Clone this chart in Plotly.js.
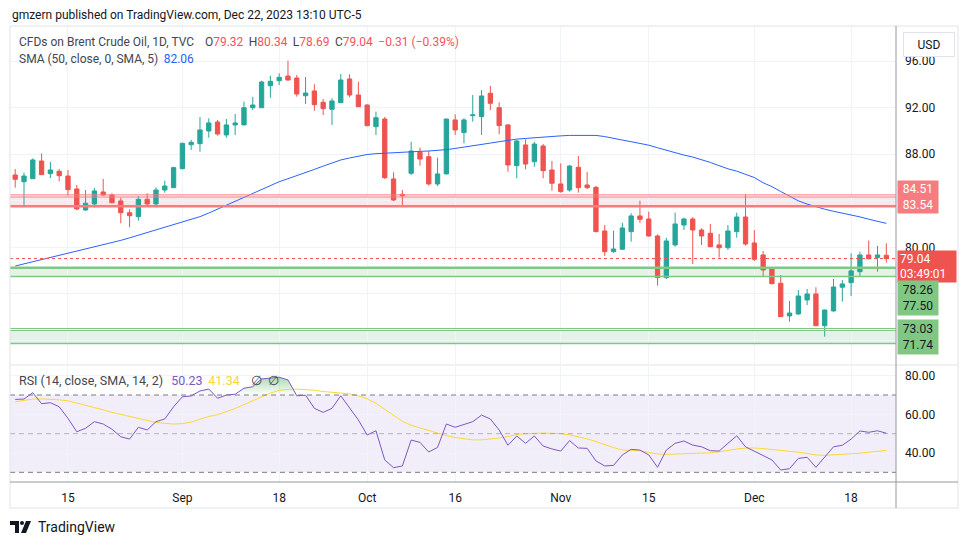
<!DOCTYPE html>
<html><head><meta charset="utf-8">
<script src="https://cdn.plot.ly/plotly-3.0.1.min.js"></script>
<style>html,body{margin:0;padding:0;background:#fff}#chart{width:970px;height:545px}</style>
</head><body><div id="chart"></div>
<script>
const dates = [
'2023-08-07','2023-08-08','2023-08-09','2023-08-10','2023-08-11',
'2023-08-14','2023-08-15','2023-08-16','2023-08-17','2023-08-18',
'2023-08-21','2023-08-22','2023-08-23','2023-08-24','2023-08-25',
'2023-08-28','2023-08-29','2023-08-30','2023-08-31','2023-09-01',
'2023-09-04','2023-09-05','2023-09-06','2023-09-07','2023-09-08',
'2023-09-11','2023-09-12','2023-09-13','2023-09-14','2023-09-15',
'2023-09-18','2023-09-19','2023-09-20','2023-09-21','2023-09-22',
'2023-09-25','2023-09-26','2023-09-27','2023-09-28','2023-09-29',
'2023-10-02','2023-10-03','2023-10-04','2023-10-05','2023-10-06',
'2023-10-09','2023-10-10','2023-10-11','2023-10-12','2023-10-13',
'2023-10-16','2023-10-17','2023-10-18','2023-10-19','2023-10-20',
'2023-10-23','2023-10-24','2023-10-25','2023-10-26','2023-10-27',
'2023-10-30','2023-10-31','2023-11-01','2023-11-02','2023-11-03',
'2023-11-06','2023-11-07','2023-11-08','2023-11-09','2023-11-10',
'2023-11-13','2023-11-14','2023-11-15','2023-11-16','2023-11-17',
'2023-11-20','2023-11-21','2023-11-22','2023-11-23','2023-11-24',
'2023-11-27','2023-11-28','2023-11-29','2023-11-30','2023-12-01',
'2023-12-04','2023-12-05','2023-12-06','2023-12-07','2023-12-08',
'2023-12-11','2023-12-12','2023-12-13','2023-12-14','2023-12-15',
'2023-12-18','2023-12-19','2023-12-20','2023-12-21','2023-12-22'];

const openP = [
86.22,85.64,85.90,87.42,86.33,86.54,86.13,85.02,83.21,83.73,
84.76,84.50,83.99,82.98,82.64,84.13,83.73,84.93,85.13,86.76,
88.82,88.91,90.00,90.77,89.66,90.52,90.52,92.00,92.00,93.89,
94.32,94.72,94.55,93.03,93.44,92.47,91.86,92.43,94.47,93.09,
92.23,90.37,91.03,85.88,84.56,86.37,88.17,87.79,85.45,86.31,
90.95,89.86,91.32,91.23,93.24,92.00,90.52,87.02,88.80,87.36,
88.71,86.65,85.45,84.93,86.88,85.36,85.16,81.41,79.63,79.84,
81.35,82.70,82.44,80.98,77.40,80.21,81.92,82.44,81.49,81.21,
80.21,79.97,81.35,82.61,80.38,79.35,78.14,76.92,74.11,74.28,
75.48,76.00,73.27,74.54,76.58,76.97,77.91,79.35,79.12,79.32];
const highP = [
86.73,86.42,87.65,88.08,87.34,86.73,86.65,85.36,84.93,85.10,
85.88,84.65,84.27,83.27,84.42,84.65,85.16,85.73,86.93,89.00,
89.23,91.20,91.09,90.95,91.03,91.46,92.52,92.92,94.32,94.75,
94.96,96.04,94.81,94.64,94.01,92.75,92.81,94.90,94.87,94.24,
92.30,91.66,91.20,86.45,84.93,89.08,88.57,88.28,87.71,91.05,
91.43,91.09,93.09,93.52,93.87,92.47,90.58,89.23,89.29,89.08,
88.88,87.42,87.22,87.08,87.85,86.48,85.27,81.92,81.43,82.12,
82.93,84.01,83.07,81.12,80.83,82.98,82.55,82.59,81.64,82.01,
81.15,81.92,82.98,84.56,81.49,79.69,78.26,77.63,75.40,76.34,
76.43,76.57,74.65,77.29,77.20,79.49,79.63,80.58,80.12,80.34];
const lowP = [
85.13,83.44,85.88,86.22,85.96,85.68,84.44,83.21,83.15,83.41,
84.42,83.79,82.07,81.73,82.29,83.64,83.44,84.70,85.10,86.70,
88.37,88.22,89.42,89.60,89.42,89.66,90.52,91.80,92.00,92.86,
93.95,94.32,92.95,92.32,91.74,91.37,90.52,92.43,92.90,92.05,
90.40,89.66,85.88,83.99,83.58,86.22,87.02,85.30,85.27,86.28,
89.66,88.94,90.80,89.66,91.80,89.72,86.50,85.94,86.71,86.93,
85.94,84.87,84.70,84.79,84.70,85.01,81.30,79.26,79.54,79.80,
80.49,82.12,80.92,76.71,77.29,80.06,81.49,78.57,80.21,80.02,
79.12,79.78,80.83,80.15,78.83,77.54,76.83,74.02,73.62,74.19,
75.05,73.24,72.33,74.48,75.34,75.82,77.48,78.98,77.91,78.69];
const closeP = [
85.85,86.13,87.51,86.25,86.65,86.16,84.96,83.30,83.79,84.85,
84.50,83.84,82.98,82.72,84.13,83.73,84.93,85.27,86.85,88.94,
89.03,90.09,90.69,89.74,90.52,90.69,92.00,92.23,94.21,94.27,
94.61,94.38,93.18,93.26,92.26,91.92,92.58,94.38,93.09,92.09,
90.46,91.14,85.99,84.07,84.44,88.28,87.59,85.45,86.31,91.03,
90.09,90.95,91.38,93.01,92.38,90.46,87.08,89.14,87.16,88.88,
86.59,85.51,84.79,86.99,85.13,85.13,81.35,79.63,79.86,81.67,
82.70,82.41,80.98,77.40,80.55,82.01,82.44,81.49,80.98,80.06,
79.97,81.41,82.61,80.29,78.98,78.06,76.88,74.05,74.36,75.82,
76.00,73.27,74.62,76.60,76.86,77.98,79.35,79.02,79.35,79.04];

const sma50 = [
78.40,78.58,78.77,78.95,79.14,79.33,79.51,79.70,79.88,80.05,
80.21,80.40,80.60,80.82,81.05,81.28,81.51,81.74,81.97,82.20,
82.42,82.64,82.95,83.28,83.61,83.94,84.27,84.60,84.95,85.30,
85.64,85.90,86.15,86.40,86.70,86.98,87.25,87.51,87.68,87.84,
87.98,88.05,88.10,88.15,88.19,88.22,88.25,88.28,88.33,88.40,
88.50,88.60,88.71,88.84,88.96,89.08,89.21,89.30,89.36,89.43,
89.48,89.53,89.58,89.62,89.64,89.66,89.62,89.52,89.35,89.22,
89.08,88.94,88.78,88.56,88.34,88.10,87.93,87.76,87.55,87.30,
87.02,86.75,86.55,86.30,86.00,85.55,85.22,84.80,84.38,84.00,
83.72,83.48,83.28,83.10,82.95,82.80,82.62,82.42,82.22,82.06];

const rsi = [
67.7,67.9,71.2,65.5,66.0,63.9,57.9,51.0,52.8,56.2,
55.0,52.3,48.4,47.2,53.3,51.9,56.2,57.6,63.9,69.1,
69.5,72.1,73.1,68.3,70.0,70.4,73.5,74.3,78.3,78.6,
79.2,77.8,69.6,69.9,63.1,61.0,63.1,69.6,63.1,57.1,
49.3,51.5,36.4,32.4,33.3,46.7,45.5,40.5,42.9,55.0,
53.3,54.8,56.2,59.6,57.6,51.9,44.0,48.8,45.0,48.8,
43.6,42.1,41.0,46.4,42.6,42.4,35.9,33.3,33.6,39.0,
41.9,41.5,39.0,32.6,41.5,45.0,46.2,44.1,43.2,41.2,
41.0,45.0,48.9,43.2,41.0,39.0,36.4,31.2,31.9,37.2,
37.8,32.6,37.8,43.2,44.0,47.2,51.4,50.7,51.5,50.23];

const rsiMa = [
66.5,67.3,67.9,68.0,67.9,67.5,67.0,65.9,64.6,63.5,
62.3,61.0,59.9,58.8,57.8,56.7,55.8,55.3,55.0,55.2,
56.0,57.5,58.9,59.8,61.2,63.0,65.0,67.0,69.2,71.0,
72.4,72.9,73.0,72.9,72.5,71.8,71.4,71.2,70.6,69.6,
68.0,65.7,62.5,59.5,56.4,54.3,52.9,51.4,50.2,49.0,
48.0,47.4,46.8,46.8,47.2,47.8,48.5,49.6,50.0,50.2,
50.3,50.2,50.0,49.4,48.5,47.3,45.9,44.3,42.8,41.6,
41.4,41.2,40.3,39.5,39.3,39.4,39.7,39.9,40.0,40.1,
40.6,41.5,42.1,42.5,42.6,42.3,41.9,41.4,40.9,40.4,
39.8,39.0,38.8,39.0,39.2,39.5,39.9,40.4,41.0,41.34];

const tickDates = ['2023-08-15','2023-09-01','2023-09-18','2023-10-02','2023-10-16','2023-11-01','2023-11-15','2023-12-01','2023-12-18'];
const tickLabels = ['15','Sep','18','Oct','16','Nov','15','Dec','18'];
const priceTicks = [96,92,88,84,80,76,72];
const priceTickText = ['96.00','92.00','88.00','','80.00','',''];
const rsiTicks = [80,60,40];
const rsiTickText = ['80.00','60.00','40.00'];

const resistanceZone = [84.51, 84.33, 83.54];  // top line, inner line, bottom line
const supportZone1 = [78.26, 77.50];
const supportZone2 = [73.03, 72.86, 71.74];
const lastPrice = 79.04;
const countdown = '03:49:01';
const rsiLevels = [70, 50, 30];

// pixel -> paper helpers (plot area: x 10..896, y 26..482)
const PX = v => (v - 10) / 886;
const PY = v => (482 - v) / 456;

const red = '#EF5350', teal = '#26A69A';
const FONT = 'Roboto, "Open Sans", sans-serif';

const traces = [
  {type:'candlestick', x:dates, open:openP, high:highP, low:lowP, close:closeP,
   xaxis:'x', yaxis:'y', whiskerwidth:0, showlegend:false, hoverinfo:'skip',
   increasing:{line:{color:teal,width:1}, fillcolor:teal},
   decreasing:{line:{color:red,width:1}, fillcolor:red}},
  {type:'scatter', mode:'lines', x:dates, y:sma50, xaxis:'x', yaxis:'y',
   line:{color:'#2962FF', width:1}, showlegend:false, hoverinfo:'skip'},
  {type:'scatter', mode:'lines', x:dates, y:dates.map(()=>rsiLevels[0]), xaxis:'x2', yaxis:'y2',
   line:{width:0, color:'rgba(0,0,0,0)'}, showlegend:false, hoverinfo:'skip'},
  {type:'scatter', mode:'lines', x:dates, y:rsi.map(v=>Math.max(v,rsiLevels[0])), xaxis:'x2', yaxis:'y2',
   line:{width:0, color:'rgba(0,0,0,0)'}, fill:'tonexty', fillcolor:'rgba(76,175,80,0.15)',
   fillgradient:{type:'vertical', start:70, stop:80, colorscale:[[0,'rgba(76,175,80,0)'],[1,'rgba(76,175,80,0.5)']]},
   showlegend:false, hoverinfo:'skip'},
  {type:'scatter', mode:'lines', x:dates, y:rsiMa, xaxis:'x2', yaxis:'y2',
   line:{color:'#FDD835', width:1}, showlegend:false, hoverinfo:'skip'},
  {type:'scatter', mode:'lines', x:dates, y:rsi, xaxis:'x2', yaxis:'y2',
   line:{color:'#7E57C2', width:1}, showlegend:false, hoverinfo:'skip'}
];

const bandLine = '#F77C80', greenLine = '#81C784';
const shapes = [
  {type:'rect', xref:'paper', yref:'y2', x0:0, x1:1, y0:rsiLevels[2], y1:rsiLevels[0], fillcolor:'rgba(126,87,194,0.1)', line:{width:0}, layer:'below'},
  {type:'line', xref:'paper', yref:'y2', x0:0, x1:1, y0:rsiLevels[0], y1:rsiLevels[0], line:{color:'#787B86', width:1, dash:'5px,4px'}},
  {type:'line', xref:'paper', yref:'y2', x0:0, x1:1, y0:rsiLevels[1], y1:rsiLevels[1], line:{color:'rgba(120,123,134,0.5)', width:1, dash:'5px,4px'}},
  {type:'line', xref:'paper', yref:'y2', x0:0, x1:1, y0:rsiLevels[2], y1:rsiLevels[2], line:{color:'#787B86', width:1, dash:'5px,4px'}},
  {type:'rect', xref:'paper', yref:'y', x0:0, x1:1, y0:resistanceZone[2], y1:resistanceZone[1], fillcolor:'rgba(242,54,69,0.12)', line:{width:0}, layer:'below'},
  {type:'line', xref:'paper', yref:'y', x0:0, x1:1, y0:resistanceZone[0], y1:resistanceZone[0], line:{color:bandLine, width:1}},
  {type:'line', xref:'paper', yref:'y', x0:0, x1:1, y0:resistanceZone[1], y1:resistanceZone[1], line:{color:bandLine, width:1}},
  {type:'line', xref:'paper', yref:'y', x0:0, x1:1, y0:resistanceZone[2], y1:resistanceZone[2], line:{color:bandLine, width:2.5}},
  {type:'rect', xref:'paper', yref:'y', x0:0, x1:1, y0:supportZone1[1], y1:supportZone1[0], fillcolor:'rgba(76,175,80,0.15)', line:{width:0}, layer:'below'},
  {type:'line', xref:'paper', yref:'y', x0:0, x1:1, y0:supportZone1[0], y1:supportZone1[0], line:{color:greenLine, width:2.5}},
  {type:'line', xref:'paper', yref:'y', x0:0, x1:1, y0:supportZone1[1], y1:supportZone1[1], line:{color:greenLine, width:1.5}},
  {type:'rect', xref:'paper', yref:'y', x0:0, x1:1, y0:supportZone2[2], y1:supportZone2[1], fillcolor:'rgba(76,175,80,0.15)', line:{width:0}, layer:'below'},
  {type:'line', xref:'paper', yref:'y', x0:0, x1:1, y0:supportZone2[0], y1:supportZone2[0], line:{color:greenLine, width:1}},
  {type:'line', xref:'paper', yref:'y', x0:0, x1:1, y0:supportZone2[1], y1:supportZone2[1], line:{color:greenLine, width:1}},
  {type:'line', xref:'paper', yref:'y', x0:0, x1:1, y0:supportZone2[2], y1:supportZone2[2], line:{color:greenLine, width:1.5}},
  {type:'line', xref:'paper', yref:'y', x0:0, x1:1, y0:lastPrice, y1:lastPrice, line:{color:red, width:1, dash:'dot'}},
  {type:'rect', xref:'paper', yref:'paper', x0:PX(10), x1:PX(958), y0:PY(508), y1:PY(26), line:{color:'#E0E3EB', width:1}, fillcolor:'rgba(0,0,0,0)'},
  {type:'line', xref:'paper', yref:'paper', x0:PX(10), x1:PX(958), y0:PY(365), y1:PY(365), line:{color:'#E0E3EB', width:1}},
  {type:'line', xref:'paper', yref:'paper', x0:PX(10), x1:PX(958), y0:PY(482), y1:PY(482), line:{color:'#9598A1', width:1}},
  {type:'line', xref:'paper', yref:'paper', x0:PX(896), x1:PX(896), y0:PY(26), y1:PY(508), line:{color:'#9598A1', width:1}},
  {type:'path', xref:'paper', yref:'paper', fillcolor:'#131722', line:{width:0},
   path:`M ${PX(10)} ${PY(521)} L ${PX(19)} ${PY(521)} L ${PX(19)} ${PY(533)} L ${PX(15)} ${PY(533)} L ${PX(15)} ${PY(525)} L ${PX(10)} ${PY(525)} Z`},
  {type:'circle', xref:'paper', yref:'paper', fillcolor:'#131722', line:{width:0},
   x0:PX(20), x1:PX(24), y0:PY(525), y1:PY(521)},
  {type:'path', xref:'paper', yref:'paper', fillcolor:'#131722', line:{width:0},
   path:`M ${PX(26)} ${PY(521)} L ${PX(31)} ${PY(521)} L ${PX(26)} ${PY(533)} L ${PX(21)} ${PY(533)} Z`}
];

const grey = '#131722';
const numRed = '#F7525F';
const nb = '\u00a0', th = '\u2009';
const gap = nb + th;
const annotations = [
  {xref:'paper', yref:'paper', x:PX(10), y:PY(15), xanchor:'left', yanchor:'middle', showarrow:false,
   text:'gmzern published on TradingView.com, Dec 22, 2023 13:10 UTC-5', font:{family:FONT, size:12, color:grey}},
  {xref:'paper', yref:'paper', x:PX(17), y:PY(42), xanchor:'left', yanchor:'middle', showarrow:false,
   text:`CFDs on Brent Crude Oil, 1D, TVC${gap}${gap}O<span style="color:${numRed}">79.32</span>${gap}H<span style="color:${numRed}">80.34</span>${gap}L<span style="color:${numRed}">78.69</span>${gap}C<span style="color:${numRed}">79.04</span>${gap}<span style="color:${numRed}">\u22120.31 (\u22120.39%)</span>`,
   font:{family:FONT, size:12, color:'#434651'}},
  {xref:'paper', yref:'paper', x:PX(17), y:PY(59), xanchor:'left', yanchor:'middle', showarrow:false,
   text:`SMA (50, close, 0, SMA, 5)${gap}<span style="color:#2962FF">82.06</span>`,
   font:{family:FONT, size:12, color:'#434651'}},
  {xref:'paper', yref:'paper', x:PX(17), y:PY(380), xanchor:'left', yanchor:'middle', showarrow:false,
   text:`RSI (14, close, SMA, 14, 2)${gap}${th}<span style="color:#7E57C2">50.23</span>${gap}<span style="color:#F5D63D">41.34</span>${gap}${gap}\u2205${gap}\u2205`,
   font:{family:FONT, size:12.5, color:'#434651'}},
  {xref:'paper', yref:'paper', x:PX(36), y:PY(527), xanchor:'left', yanchor:'middle', showarrow:false,
   text:'TradingView', font:{family:FONT, size:14, color:grey}},
  {xref:'paper', yref:'paper', x:PX(903), y:PY(44.5), xanchor:'left', yanchor:'middle', showarrow:false,
   text:'USD', width:50, height:23, align:'center', bgcolor:'#ffffff', bordercolor:'#E0E3EB', borderwidth:1, borderpad:0,
   font:{family:FONT, size:12, color:grey}},
  {xref:'paper', yref:'y', x:1, xshift:1, y:(resistanceZone[0]+resistanceZone[2])/2, yshift:3.5, xanchor:'left', yanchor:'middle', showarrow:false,
   text:resistanceZone[0].toFixed(2)+'<br>'+resistanceZone[2].toFixed(2), width:36, height:28, borderpad:2, align:'center',
   bgcolor:'#F77C80', font:{family:FONT, size:12, color:'#ffffff'}},
  {xref:'paper', yref:'y', x:1, xshift:1, y:lastPrice, yshift:-8, xanchor:'left', yanchor:'middle', showarrow:false,
   text:lastPrice.toFixed(2)+'<br>'+countdown, width:54, height:27, borderpad:2, align:'left',
   bgcolor:red, font:{family:FONT, size:12, color:'#ffffff'}},
  {xref:'paper', yref:'y', x:1, xshift:1, y:(supportZone1[0]+supportZone1[1])/2, yshift:-25.5, xanchor:'left', yanchor:'middle', showarrow:false,
   text:supportZone1[0].toFixed(2)+'<br>'+supportZone1[1].toFixed(2), width:36, height:30, borderpad:2, align:'center',
   bgcolor:'#81C784', font:{family:FONT, size:12, color:grey}},
  {xref:'paper', yref:'y', x:1, xshift:1, y:(supportZone2[0]+supportZone2[2])/2, yshift:-1.4, xanchor:'left', yanchor:'middle', showarrow:false,
   text:supportZone2[0].toFixed(2)+'<br>'+supportZone2[2].toFixed(2), width:36, height:30, borderpad:2, align:'center',
   bgcolor:'#81C784', font:{family:FONT, size:12, color:grey}}
];

const xCommon = {type:'category', range:[-0.59, 100.1], tickvals:tickDates, ticktext:tickLabels,
  showgrid:true, gridcolor:'#F0F3FA', gridwidth:1, zeroline:false, showline:false, ticks:'', fixedrange:true};

const layout = {
  width:970, height:545,
  margin:{l:10, r:74, t:26, b:63},
  paper_bgcolor:'#ffffff', plot_bgcolor:'#ffffff',
  font:{family:FONT, size:12, color:grey},
  showlegend:false,
  xaxis:Object.assign({}, xCommon, {anchor:'y', showticklabels:false, rangeslider:{visible:false}}),
  xaxis2:Object.assign({}, xCommon, {anchor:'y2', showticklabels:true, tickfont:{family:FONT, size:12, color:grey}, ticklabelstandoff:7}),
  yaxis:{domain:[PY(364), 1], range:[69.98, 99.02], side:'right', anchor:'x', tickvals:priceTicks, ticktext:priceTickText,
    showgrid:true, gridcolor:'#F0F3FA', zeroline:false, showline:false, ticks:'', ticklabelstandoff:8,
    tickfont:{family:FONT, size:12, color:grey}, fixedrange:true},
  yaxis2:{domain:[0, PY(366)], range:[25, 85], side:'right', anchor:'x2', tickvals:rsiTicks, ticktext:rsiTickText,
    showgrid:true, gridcolor:'#F0F3FA', zeroline:false, showline:false, ticks:'', ticklabelstandoff:8,
    tickfont:{family:FONT, size:12, color:grey}, fixedrange:true},
  shapes:shapes,
  annotations:annotations
};

Plotly.newPlot('chart', traces, layout, {staticPlot:true, displayModeBar:false});
</script>
</body></html>
